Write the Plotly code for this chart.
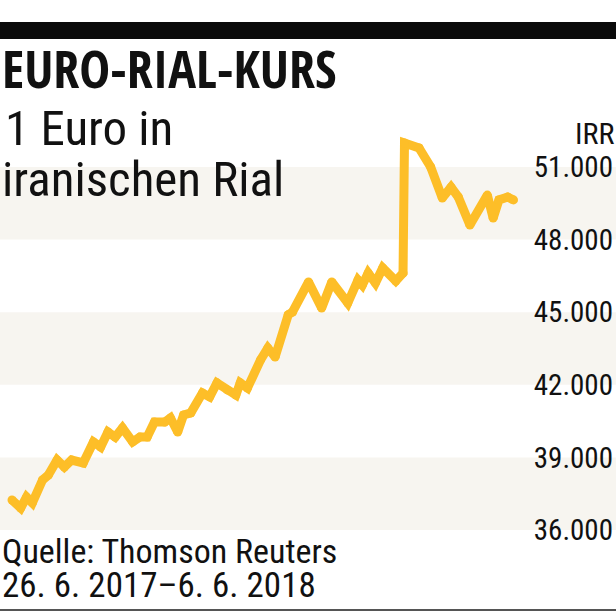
import plotly.graph_objects as go

dates = ["2017-06-26","2017-07-02","2017-07-06","2017-07-10","2017-07-17","2017-07-21",
         "2017-07-27","2017-08-01","2017-08-06","2017-08-14","2017-08-21","2017-08-26",
         "2017-08-31","2017-09-05","2017-09-10","2017-09-17","2017-09-22","2017-09-27",
         "2017-10-02","2017-10-09","2017-10-13","2017-10-18","2017-10-22","2017-10-27",
         "2017-11-04","2017-11-09","2017-11-14","2017-11-21","2017-11-27","2017-11-30",
         "2017-12-05","2017-12-14","2017-12-19","2017-12-24","2018-01-02","2018-01-05",
         "2018-01-16","2018-01-25","2018-02-01","2018-02-12","2018-02-19","2018-02-22",
         "2018-02-26","2018-03-03","2018-03-08","2018-03-17","2018-03-22","2018-03-23",
         "2018-04-02","2018-04-10","2018-04-18","2018-04-24","2018-04-29","2018-05-07",
         "2018-05-19","2018-05-23","2018-05-27","2018-06-02","2018-06-06"]
rate = [37240,36910,37360,37120,38070,38270,
        38890,38600,38890,38770,39640,39430,
        40050,39840,40220,39640,39840,39840,
        40460,40460,40630,40050,40750,40840,
        41660,41500,42080,41790,41580,42080,
        41870,43030,43520,43150,44890,45010,
        46250,45170,46250,45380,46330,46120,
        46620,46210,46830,46290,46620,51990,
        51790,51000,49720,50170,49760,48600,
        49840,48890,49640,49760,49640]

tick_vals = [36000, 39000, 42000, 45000, 48000, 51000]
tick_text = ["36.000", "39.000", "42.000", "45.000", "48.000", "51.000"]
bands = [(36000, 39000), (42000, 45000), (48000, 51000)]

W, H = 616, 612
band_color = "#f7f5f0"
line_color = "#fdbe28"
cond = "Roboto Condensed, sans-serif"
cond_bold = "Open Sans Condensed, Roboto Condensed, sans-serif"

fig = go.Figure()
fig.add_trace(go.Scatter(x=dates, y=rate, mode="lines+markers",
                         line=dict(color=line_color, width=9),
                         marker=dict(color=line_color, size=9, line=dict(width=0)),
                         hoverinfo="skip", showlegend=False))

shapes = []
for lo, hi in bands:
    shapes.append(dict(type="rect", xref="paper", yref="y", x0=0, x1=1, y0=lo, y1=hi,
                       fillcolor=band_color, line=dict(width=0), layer="below"))
def py(px):
    return 1 - px / H
shapes.append(dict(type="rect", xref="paper", yref="paper", x0=0, x1=1, y0=py(39), y1=py(22),
                   fillcolor="#0a0a0a", line=dict(width=0)))
shapes.append(dict(type="line", xref="paper", yref="paper", x0=0, x1=1, y0=py(610), y1=py(610),
                   line=dict(color="#555555", width=2)))

ann = []
def txt(text, x, ypx, size, fam, bold=False, xanchor="left"):
    ann.append(dict(text=("<b>%s</b>" % text) if bold else text, x=x, y=py(ypx),
                    xref="paper", yref="paper", xanchor=xanchor, yanchor="middle",
                    showarrow=False, font=dict(family=fam, size=size, color="#111111")))
txt("EURO-RIAL-KURS", 0.0, 67, 52, cond_bold, bold=True)
txt("1 Euro in", 0.005, 128, 49, cond)
txt("iranischen Rial", 0.0, 179, 49, cond)
txt("IRR", 1.0, 133, 30, cond, xanchor="right")
txt("Quelle: Thomson Reuters", 0.0, 551, 34, cond)
txt("26. 6. 2017\u20136. 6. 2018", 0.0, 585, 35, cond)

fig.update_layout(
    width=W, height=H, margin=dict(l=0, r=0, t=0, b=0),
    paper_bgcolor="white", plot_bgcolor="white",
    shapes=shapes, annotations=ann,
    xaxis=dict(range=["2017-06-17 18:00", "2018-08-15 12:00"], visible=False, fixedrange=True),
    yaxis=dict(range=[32612, 57901], side="right", ticklabelposition="inside",
               tickvals=tick_vals, ticktext=tick_text, showgrid=False, zeroline=False,
               ticks="", tickfont=dict(family=cond, size=29, color="#111111"), fixedrange=True),
)
fig.write_html("out.html")
